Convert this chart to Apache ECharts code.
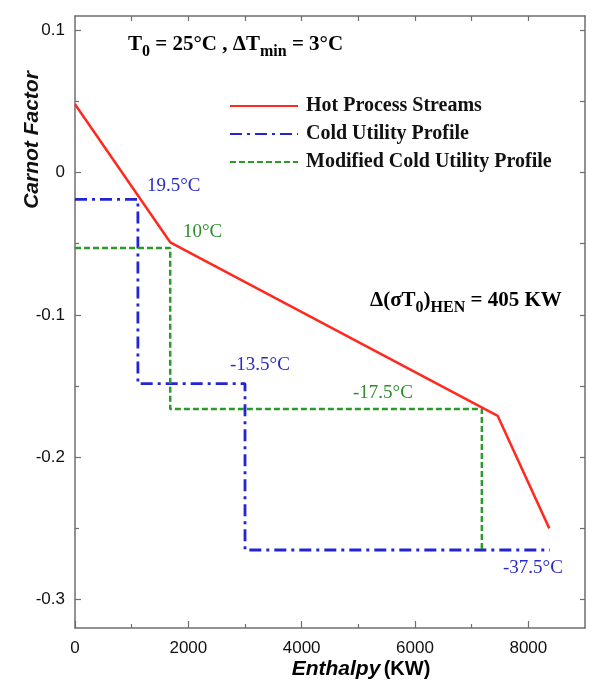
<!DOCTYPE html>
<html>
<head>
<meta charset="utf-8">
<script src="https://cdn.jsdelivr.net/npm/echarts@6/dist/echarts.min.js"></script>
<style>
html,body{margin:0;padding:0;background:#fff;}
#chart{width:608px;height:693px;}
</style>
</head>
<body>
<div id="chart"></div>
<script>
// ---- data ----
var hotX = [0, 1680, 7460, 8370];
var hotY = [0.048, -0.049, -0.171, -0.250];

var coldX = [0, 1110, 1110, 3000, 3000, 8380];
var coldY = [-0.0188, -0.0188, -0.1483, -0.1483, -0.2652, -0.2652];

var modX = [0, 1680, 1680, 7180, 7180];
var modY = [-0.053, -0.053, -0.1662, -0.1662, -0.2652];

var seriesNames = ['Hot Process Streams', 'Cold Utility Profile', 'Modified Cold Utility Profile'];

var xLabelValues = [0, 2000, 4000, 6000, 8000];
var xMinorValues = [1000, 3000, 5000, 7000];
var xAllTicks = [1000, 2000, 3000, 4000, 5000, 6000, 7000, 8000];
var yLabelValues = [-0.3, -0.2, -0.1, 0, 0.1];
var yAllTicks = [-0.3, -0.25, -0.2, -0.15, -0.1, -0.05, 0, 0.05, 0.1];
var yMinorValues = [-0.25, -0.15, -0.05, 0.05];

var tempLabels = [
  {text: '19.5°C', x: 147, y: 188, color: '#2a2ac8'},
  {text: '10°C', x: 183, y: 234, color: '#2e8b2e'},
  {text: '-13.5°C', x: 230, y: 367, color: '#2a2ac8'},
  {text: '-17.5°C', x: 353, y: 395, color: '#2e8b2e'},
  {text: '-37.5°C', x: 503, y: 570, color: '#2a2ac8'}
];

function zip(xs, ys){ return xs.map(function(v,i){ return [v, ys[i]]; }); }

var axisColor = '#6e6e6e';
var tickFont = {fontFamily: 'Liberation Sans, Arial, sans-serif', fontSize: 17, color: '#111'};

var chart = echarts.init(document.getElementById('chart'), null, {renderer: 'canvas'});

var option = {
  backgroundColor: '#ffffff',
  animation: false,
  grid: {left: 75, right: 23, top: 16, bottom: 65},
  legend: {
    orient: 'vertical',
    left: 224,
    top: 91,
    itemWidth: 68,
    itemHeight: 14,
    itemGap: 8,
    itemStyle: {opacity: 0},
    data: seriesNames,
    textStyle: {fontFamily: 'Liberation Serif, Times New Roman, serif', fontWeight: 'bold', fontSize: 20, color: '#111', padding: [0,0,0,3]}
  },
  xAxis: [
    {
      type: 'value', position: 'bottom', min: 0, max: 9000,
      axisLine: {show: true, onZero: false, lineStyle: {color: axisColor, width: 1.5}},
      axisTick: {show: true, inside: true, length: 7, customValues: xLabelValues, lineStyle: {color: axisColor, width: 1.2}},
      axisLabel: {show: true, margin: 12, customValues: xLabelValues, fontFamily: tickFont.fontFamily, fontSize: tickFont.fontSize, color: tickFont.color,
        formatter: function(v){ return String(Math.round(v)); }},
      splitLine: {show: false}
    },
    {
      type: 'value', position: 'bottom', min: 0, max: 9000,
      axisLine: {show: false, onZero: false},
      axisTick: {show: true, inside: true, length: 4, customValues: xMinorValues, lineStyle: {color: axisColor, width: 1.2}},
      axisLabel: {show: false},
      splitLine: {show: false}
    },
    {
      type: 'value', position: 'top', min: 0, max: 9000,
      axisLine: {show: true, onZero: false, lineStyle: {color: axisColor, width: 1.5}},
      axisTick: {show: true, inside: true, length: 5, customValues: xAllTicks, lineStyle: {color: axisColor, width: 1.2}},
      axisLabel: {show: false},
      splitLine: {show: false}
    }
  ],
  yAxis: [
    {
      type: 'value', position: 'left', min: -0.32, max: 0.11,
      axisLine: {show: true, onZero: false, lineStyle: {color: axisColor, width: 1.5}},
      axisTick: {show: true, inside: true, length: 6, customValues: yLabelValues, lineStyle: {color: axisColor, width: 1.2}},
      axisLabel: {show: true, margin: 10, customValues: yLabelValues, fontFamily: tickFont.fontFamily, fontSize: tickFont.fontSize, color: tickFont.color,
        formatter: function(v){ return (Math.round(v*10)/10).toString(); }},
      splitLine: {show: false}
    },
    {
      type: 'value', position: 'left', min: -0.32, max: 0.11,
      axisLine: {show: false, onZero: false},
      axisTick: {show: true, inside: true, length: 4, customValues: yMinorValues, lineStyle: {color: axisColor, width: 1.2}},
      axisLabel: {show: false},
      splitLine: {show: false}
    },
    {
      type: 'value', position: 'right', min: -0.32, max: 0.11,
      axisLine: {show: true, onZero: false, lineStyle: {color: axisColor, width: 1.5}},
      axisTick: {show: true, inside: true, length: 5, customValues: yAllTicks, lineStyle: {color: axisColor, width: 1.2}},
      axisLabel: {show: false},
      splitLine: {show: false}
    }
  ],
  series: [
    {
      name: seriesNames[0], type: 'line', xAxisIndex: 0, yAxisIndex: 0,
      data: zip(hotX, hotY), showSymbol: false, symbol: 'none',
      lineStyle: {color: '#ff2a1f', width: 2.5}, itemStyle: {color: '#ff2a1f'}, z: 5
    },
    {
      name: seriesNames[1], type: 'line', xAxisIndex: 0, yAxisIndex: 0,
      data: zip(coldX, coldY), showSymbol: false, symbol: 'none',
      lineStyle: {color: '#2323d8', width: 2.8, type: [12, 5, 3, 5]}, itemStyle: {color: '#2323d8'}, z: 3
    },
    {
      name: seriesNames[2], type: 'line', xAxisIndex: 0, yAxisIndex: 0,
      data: zip(modX, modY), showSymbol: false, symbol: 'none',
      lineStyle: {color: '#2a9a2a', width: 2.5, type: [6, 3]}, itemStyle: {color: '#2a9a2a'}, z: 4
    }
  ],
  graphic: []
};

var g = [];
tempLabels.forEach(function(t){
  g.push({type: 'text', left: t.x, top: t.y - 11, silent: true,
    style: {text: t.text, fill: t.color, font: '19px "Liberation Serif", "Times New Roman", serif'}});
});
var richSub = {
  m: {fontFamily: 'Liberation Serif, Times New Roman, serif', fontWeight: 'bold', fontSize: 21, color: '#111', lineHeight: 24, verticalAlign: 'top'},
  s: {fontFamily: 'Liberation Serif, Times New Roman, serif', fontWeight: 'bold', fontSize: 16, color: '#111', lineHeight: 18, padding: [10,0,0,0], verticalAlign: 'top'}
};
g.push({type: 'text', x: 128, y: 46, silent: true,
  style: {text: '{m|T}{s|0}{m| = 25°C , ΔT}{s|min}{m| = 3°C}', verticalAlign: 'middle', rich: richSub}});
g.push({type: 'text', x: 370, y: 302, silent: true,
  style: {text: '{m|Δ(σT}{s|0}{m|)}{s|HEN}{m| = 405 KW}', verticalAlign: 'middle', rich: richSub}});
g.push({type: 'text', x: 361, y: 669, silent: true,
  style: {
    text: '{i|Enthalpy} {b|(KW)}',
    align: 'center', verticalAlign: 'middle',
    rich: {
      i: {fontFamily: 'Liberation Sans, Arial, sans-serif', fontWeight: 'bold', fontStyle: 'italic', fontSize: 21, color: '#111'},
      b: {fontFamily: 'Liberation Sans, Arial, sans-serif', fontWeight: 'bold', fontSize: 20, color: '#111'}
    }
  }});
g.push({type: 'text', x: 32, y: 140, rotation: Math.PI/2, silent: true,
  style: {
    text: 'Carnot Factor', align: 'center', verticalAlign: 'middle',
    font: 'italic bold 21px "Liberation Sans", Arial, sans-serif', fill: '#111'
  }});
option.graphic = g;

chart.setOption(option);
</script>
</body>
</html>
